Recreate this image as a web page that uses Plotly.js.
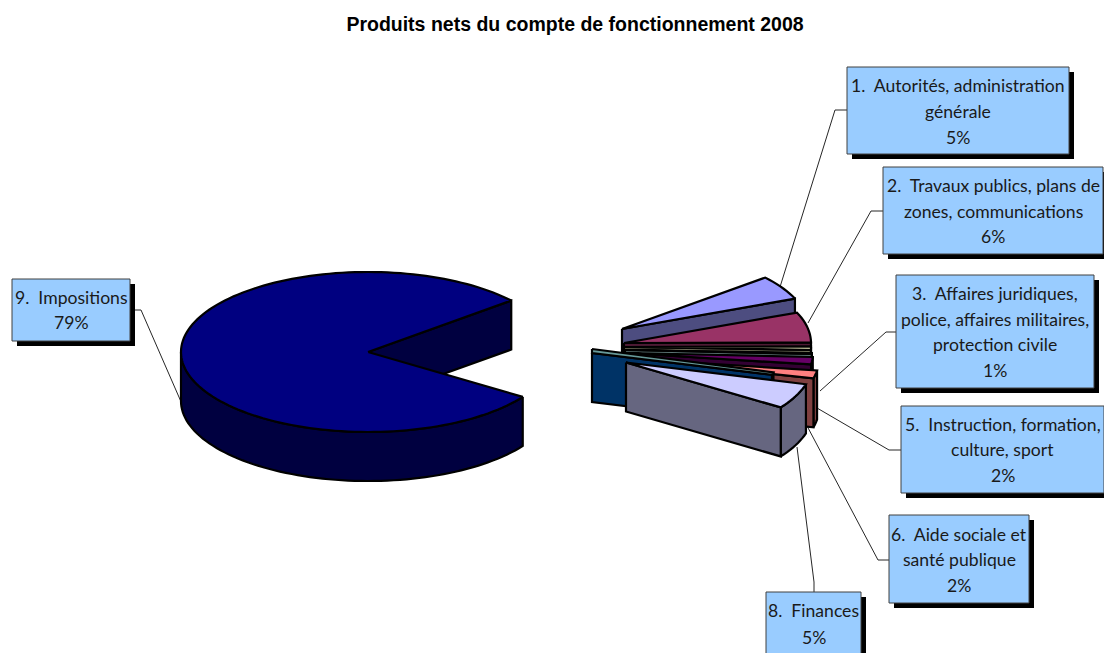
<!DOCTYPE html>
<html><head><meta charset="utf-8">
<script src="https://cdn.plot.ly/plotly-3.0.1.min.js"></script>
<style>html,body{margin:0;padding:0;background:#fff}</style></head>
<body><div id="chart" style="width:1104px;height:653px"></div>
<script>
// ---- data ----
const categories = ["1.  Autorités, administration générale","2.  Travaux publics, plans de zones, communications","3.  Affaires juridiques, police, affaires militaires, protection civile","4.","5.  Instruction, formation, culture, sport","6.  Aide sociale et santé publique","7.","8.  Finances","9.  Impositions"];
const shares = [4.9, 6.1, 0.7, 0.2, 1.5, 1.6, 0.5, 5.1, 79.4];
const percentLabels = ["5%","6%","1%","","2%","2%","","5%","79%"];

// ---- styling / layout ----
const topColors  = ["#9999FF","#993366","#FFFFCC","#CCFFFF","#660066","#FF8080","#669999","#CCCCFF","#000080"];
const sideColors = ["#4D4D80","#4D1A33","#808066","#668080","#330033","#804040","#003366","#666680","#000040"];
const apexX = [622,624,624,625,626,632,592,626,368];
const apexY = [329,343,347,350,353,359,353,362.5,352];
const bluntTop = [0,0,0,0,0,0,4,0,0];
const RX = 187, RY = 80, DEPTH = 49, START = 40;
const drawOrder = [8,0,1,2,3,4,5,6,7];

const rad = d => d*Math.PI/180;
function rim(i,a,dz){ return [apexX[i]+RX*Math.cos(rad(a)), apexY[i]-RY*Math.sin(rad(a))+(dz||0)]; }
function arc(i,a1,a2,dz){ const p=[]; const n=Math.max(2,Math.ceil(Math.abs(a1-a2)/2));
  for(let k=0;k<=n;k++) p.push(rim(i,a1+(a2-a1)*k/n,dz)); return p; }
const total = shares.reduce((s,v)=>s+v,0);
const ranges=[]; { let a=START; shares.forEach(v=>{const b=a-v/total*360; ranges.push([a,b]); a=b;}); }

function poly(pts,color){ const c=pts.concat([pts[0]]);
  return {type:"scatter",mode:"lines",x:c.map(p=>p[0]),y:c.map(p=>p[1]),fill:"toself",fillcolor:color,
    line:{color:"#000",width:2.2,simplify:false},hoverinfo:"skip",showlegend:false}; }
const traces=[];
drawOrder.forEach(i=>{
  const [a1,a2]=ranges[i];
  const w1=Math.min(a1,0), w2=Math.max(a2,-180);
  if(w1>w2){ traces.push(poly(arc(i,w1,w2,0).concat(arc(i,w2,w1,DEPTH)),sideColors[i])); }
  const e=rim(i,a2), eb=rim(i,a2,DEPTH);
  traces.push(poly([[apexX[i],apexY[i]],e,eb,[apexX[i],apexY[i]+DEPTH]],sideColors[i]));
  traces.push(poly([[apexX[i],apexY[i]-bluntTop[i]]].concat(arc(i,a1,a2,0),[[apexX[i],apexY[i]]]),topColors[i]));
});

const boxes=[
 {i:0,b:[847,67,1069,154],lines:["1.  Autorités, administration","générale"],ly:[85,111,137],lead:"M780,287L835,110L847,110"},
 {i:1,b:[883,167,1103,254],lines:["2.  Travaux publics, plans de","zones, communications"],ly:[185,211,236],lead:"M808,323L871,211L883,211"},
 {i:2,b:[896,275,1094,388],lines:["3.  Affaires juridiques,","police, affaires militaires,","protection civile"],ly:[293,319,344,370],lead:"M820,391L886,332L896,332"},
 {i:4,b:[901,406,1104,493],lines:["5.  Instruction, formation,","culture, sport"],ly:[424,449,475],lead:"M817,408L889,450L901,450"},
 {i:5,b:[889,515,1029,603],lines:["6.  Aide sociale et","santé publique"],ly:[534,559,585],lead:"M806,424L878,560L889,560"},
 {i:7,b:[766,592,861,665],lines:["8.  Finances"],ly:[610,637],lead:"M797,447L814,582L814,592"},
 {i:8,b:[12,279,130,341],lines:["9.  Impositions"],ly:[297,322],lead:"M130,310L141,310L182,404"}
];
const shapes=[], annotations=[];
boxes.forEach(o=>{
  const [x0,y0,x1,y1]=o.b;
  shapes.push({type:"path",path:o.lead,layer:"below",line:{color:"#262626",width:1}});
  shapes.push({type:"rect",x0:x0+5,y0:y0+5,x1:x1+5,y1:y1+5,layer:"below",fillcolor:"#000",line:{width:0}});
  shapes.push({type:"rect",x0,y0,x1,y1,layer:"below",fillcolor:"#99CCFF",line:{color:"#404040",width:1}});
  o.lines.concat([percentLabels[o.i]]).forEach((t,k)=>annotations.push({
    x:(x0+x1)/2,y:o.ly[k],xref:"x",yref:"y",text:t,showarrow:false,xanchor:"center",yanchor:"middle",
    font:{family:"Lato, Carlito, sans-serif",size:17.6,color:"#1a1a1a"}}));
});

Plotly.newPlot("chart",traces,{
  width:1104,height:653,margin:{l:0,r:0,t:0,b:0},paper_bgcolor:"#fff",plot_bgcolor:"#fff",showlegend:false,
  title:{text:"<b>Produits nets du compte de fonctionnement 2008</b>",x:575/1104,xanchor:"center",y:1-24/653,yanchor:"middle",
    font:{family:"Liberation Sans, Arial, sans-serif",size:19.5,color:"#000"}},
  xaxis:{range:[0,1104],visible:false,fixedrange:true},
  yaxis:{range:[653,0],visible:false,fixedrange:true},
  shapes,annotations
},{displayModeBar:false,staticPlot:true});
</script></body></html>
